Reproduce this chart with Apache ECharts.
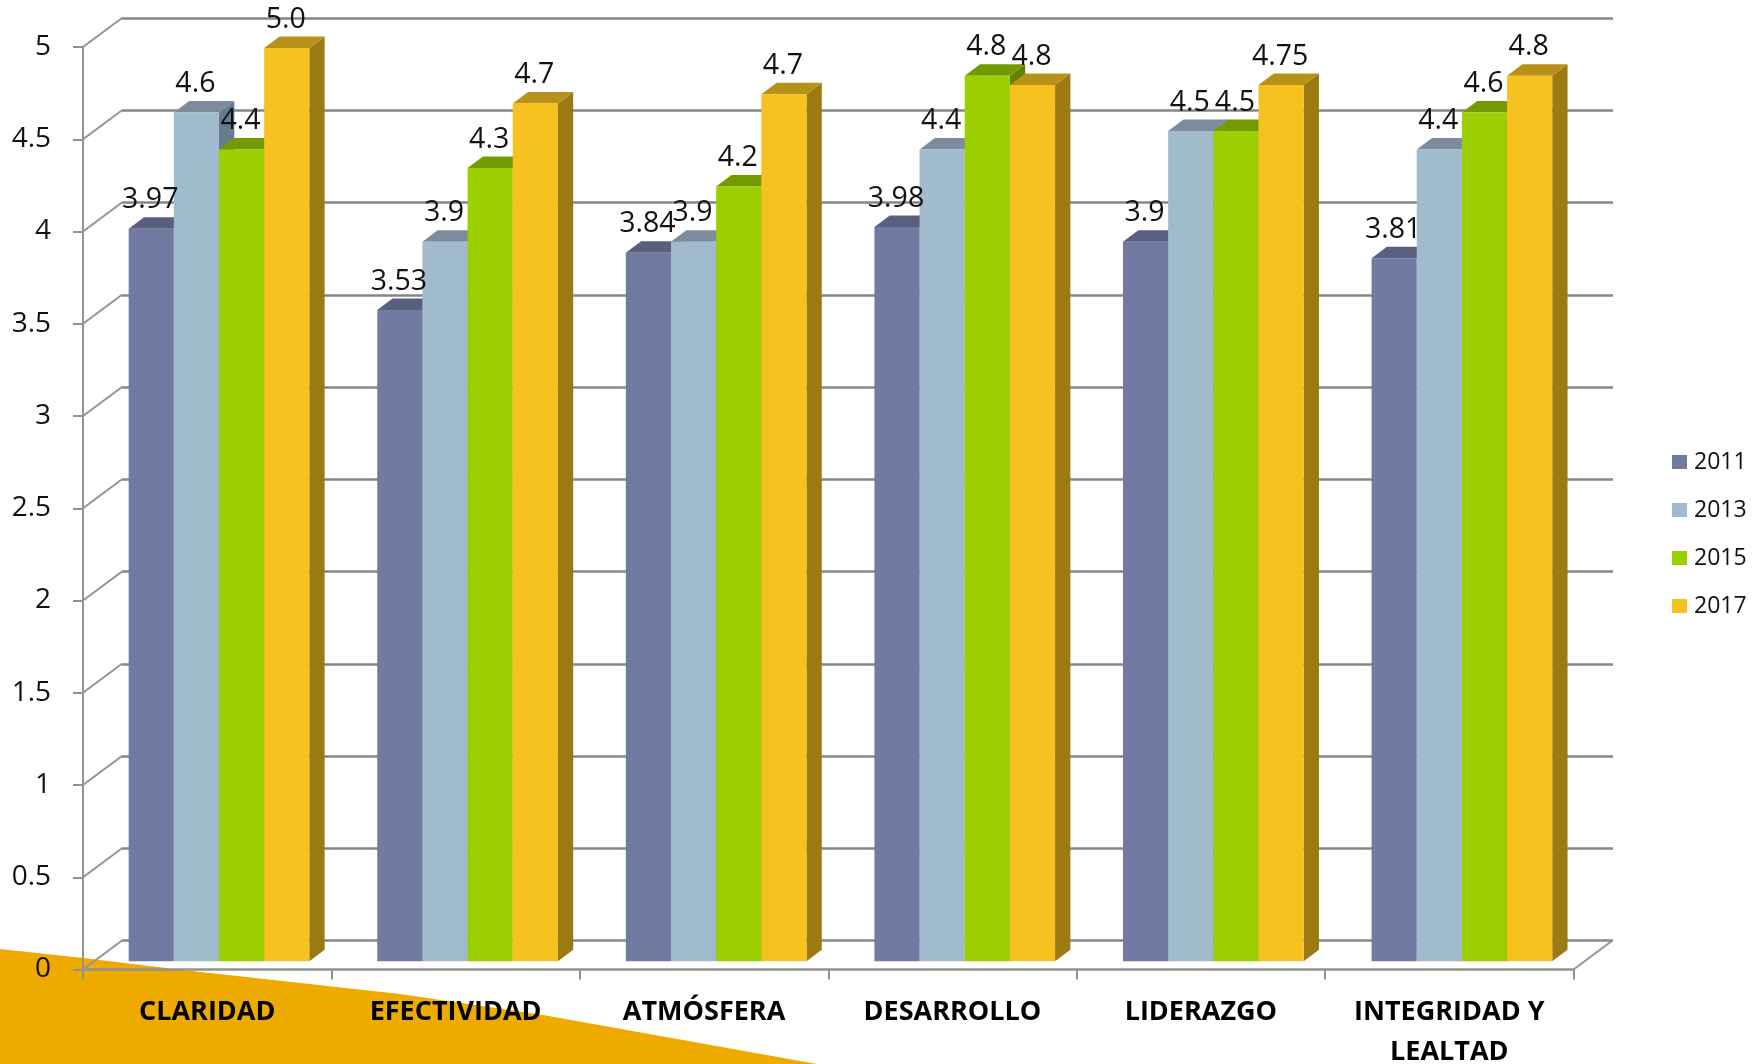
<!DOCTYPE html>
<html><head><meta charset="utf-8">
<style>html,body{margin:0;padding:0;background:#fff}#c{width:1760px;height:1064px}</style>
<script src="https://cdn.jsdelivr.net/npm/echarts@6/dist/echarts.min.js"></script>
</head><body><div id="c"></div>
<script>
const categories = ['CLARIDAD','EFECTIVIDAD','ATMÓSFERA','DESARROLLO','LIDERAZGO','INTEGRIDAD Y\nLEALTAD'];
const years = ['2011','2013','2015','2017'];
const values2011 = [3.97,3.53,3.84,3.98,3.9,3.81];
const values2013 = [4.6,3.9,3.9,4.4,4.5,4.4];
const values2015 = [4.4,4.3,4.2,4.8,4.5,4.6];
const values2017 = [4.95,4.65,4.7,4.75,4.75,4.8];
const labels2011 = ['3.97','3.53','3.84','3.98','3.9','3.81'];
const labels2013 = ['4.6','3.9','3.9','4.4','4.5','4.4'];
const labels2015 = ['4.4','4.3','4.2','4.8','4.5','4.6'];
const labels2017 = ['5.0','4.7','4.7','4.8','4.75','4.8'];
const valueTicks = [0,0.5,1,1.5,2,2.5,3,3.5,4,4.5,5];

const seriesValues = [values2011,values2013,values2015,values2017];
const seriesLabels = [labels2011,labels2013,labels2015,labels2017];
const front = ['#717BA2','#A0BACE','#9BCF00','#F7C11F'];
const topFace = ['#5A5F7F','#7C8C9C','#739A00','#B89218'];
const sideFace = ['#4F5676','#667C8C','#5F8200','#9C7A12'];
const FONT = '"Open Sans"';
const BAR_SHARE = 0.1817, DX = 15.3, DY = 11.5;
const WALL_DX = 39, WALL_DY = 29;

function barItem(s){
  return function(params, api){
    const c = api.value(0), v = api.value(1);
    const p = api.coord([c, v]), b = api.coord([c, 0]);
    const w = api.size([1,0])[0] * BAR_SHARE;
    const x0 = p[0] + (s - 2) * w, x1 = x0 + w, yt = p[1], yb = b[1];
    return {type:'group', children:[
      {type:'polygon', shape:{points:[[x1,yt],[x1+DX,yt-DY],[x1+DX,yb-DY],[x1,yb]]}, style:{fill:sideFace[s]}},
      {type:'polygon', shape:{points:[[x0,yt],[x0+DX,yt-DY],[x1+DX,yt-DY],[x1,yt]]}, style:{fill:topFace[s]}},
      {type:'rect', shape:{x:x0,y:yt,width:w,height:yb-yt}, style:{fill:front[s]}},
      {type:'text', z2:100, style:{text:seriesLabels[s][params.dataIndex], x:x0+w/2-1, y:yt-28.5, align:'center', verticalAlign:'middle',
        fontSize:28.5, fontFamily:FONT, fill:'#111'}}
    ]};
  };
}
const barSeries = years.map((y,s)=>({
  name:y, type:'custom', xAxisIndex:2, yAxisIndex:2, silent:true, clip:false,
  itemStyle:{color:front[s]}, animation:false,
  encode:{x:0,y:1},
  data:seriesValues[s].map((v,i)=>[i,v]),
  renderItem:barItem(s)
}));
const lineStyle = {stroke:'#939393', lineWidth:2};
const wallSeries = {
  type:'custom', xAxisIndex:0, yAxisIndex:0, silent:true, clip:false, animation:false, z:1,
  encode:{x:0,y:1},
  data:valueTicks.map(v=>[0,v]),
  renderItem(params, api){
    const y = api.coord([0, api.value(1)])[1], x = params.coordSys.x;
    const kids = [{type:'line', shape:{x1:x,y1:y,x2:x+WALL_DX,y2:y-WALL_DY}, style:lineStyle}];
    if(api.value(1)===0){
      const r = x + params.coordSys.width;
      kids.push({type:'line', shape:{x1:r,y1:y,x2:r+WALL_DX,y2:y-WALL_DY}, style:lineStyle});
    }
    return {type:'group', children:kids};
  }
};
const chart = echarts.init(document.getElementById('c'), null, {renderer:'canvas'});
const hiddenCat = i=>({type:'category', gridIndex:i, data:categories, show:false});
const hiddenVal = i=>({type:'value', gridIndex:i, min:0, max:5, interval:0.5, show:false});
chart.setOption({
  animation:false,
  backgroundColor:'#fff',
  textStyle:{fontFamily:FONT},
  graphic:{elements:[{type:'polygon', z:-10, silent:true,
    shape:{points:[[0,949],[83,958],[183,970],[400,994],[543,1015],[817,1064],[0,1064]]},
    style:{fill:'#EFAA00'}}]},
  grid:[
    {left:83, top:47, width:1490.5, height:922.5, outerBoundsMode:'none', containLabel:false},
    {left:122, top:18, width:1491, height:922.7, outerBoundsMode:'none', containLabel:false},
    {left:94.7, top:38.8, width:1491.5, height:922.5, outerBoundsMode:'none', containLabel:false}
  ],
  xAxis:[
    {type:'category', gridIndex:0, data:categories, boundaryGap:true,
     axisLine:{lineStyle:{color:'#939393',width:2.5}},
     axisTick:{show:true,length:10,inside:false,lineStyle:{color:'#939393',width:2}},
     axisLabel:{interval:0,fontSize:27,fontWeight:'bold',fontFamily:FONT,color:'#000',lineHeight:40,margin:23}},
    hiddenCat(1), hiddenCat(2)
  ],
  yAxis:[
    {type:'value', gridIndex:0, min:0, max:5, interval:0.5,
     axisLine:{show:true,lineStyle:{color:'#939393',width:2}},
     axisTick:{show:true,length:10,lineStyle:{color:'#939393',width:2}},
     splitLine:{show:false},
     axisLabel:{fontSize:28,fontFamily:FONT,color:'#111',margin:32,padding:[8,0,0,0],formatter:v=>String(v)}},
    {type:'value', gridIndex:1, min:0, max:5, interval:0.5, show:true,
     axisLine:{show:false},axisTick:{show:false},axisLabel:{show:false},
     splitLine:{show:true,lineStyle:{color:'#868686',width:2.5,type:'solid'}}},
    hiddenVal(2)
  ],
  legend:{orient:'vertical', left:1672, top:450.5, padding:0, itemWidth:15, itemHeight:14, itemGap:25,
    data:years.map(n=>({name:n,icon:'rect'})),
    textStyle:{fontSize:23,fontFamily:FONT,color:'#111',padding:[0,0,0,2]}},
  series:[wallSeries].concat(barSeries)
});
</script></body></html>
